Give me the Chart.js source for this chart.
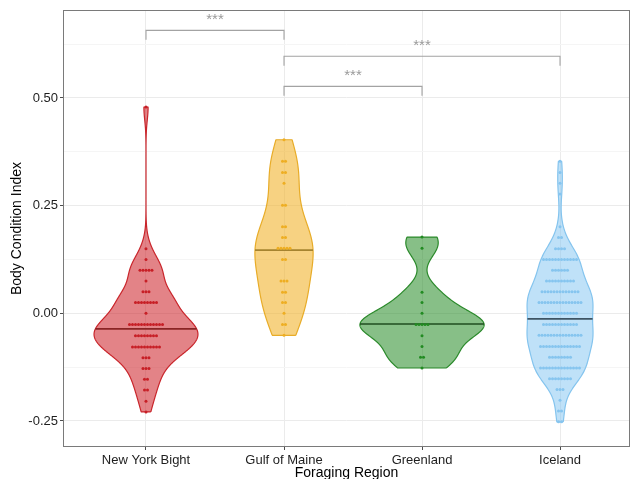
<!DOCTYPE html>
<html>
<head>
<meta charset="utf-8">
<script src="https://cdn.jsdelivr.net/npm/chart.js@4.4.1/dist/chart.umd.min.js"></script>
<style>
  html, body { margin: 0; padding: 0; background: #fff; overflow: hidden; }
  #wrap { width: 632px; height: 479px; overflow: hidden; }
  canvas { display: block; }
</style>
</head>
<body>
<div id="wrap"><canvas id="c" width="632" height="490" style="width:632px;height:490px"></canvas></div>
<script>
// Foraging regions (x categories)
const regions = ['New York Bight', 'Gulf of Maine', 'Greenland', 'Iceland'];

// Body condition index, one value per animal (binned as in the dot plot)
const newYorkBight = [
  0.479, 0.150, 0.125,
  0.100, 0.100, 0.100, 0.100, 0.100,
  0.075,
  0.050, 0.050, 0.050,
  0.025, 0.025, 0.025, 0.025, 0.025, 0.025, 0.025, 0.025,
  0.000,
  -0.026, -0.026, -0.026, -0.026, -0.026, -0.026, -0.026, -0.026, -0.026, -0.026, -0.026, -0.026,
  -0.052, -0.052, -0.052, -0.052, -0.052, -0.052, -0.052, -0.052,
  -0.078, -0.078, -0.078, -0.078, -0.078, -0.078, -0.078, -0.078, -0.078, -0.078,
  -0.103, -0.103, -0.103,
  -0.128, -0.128, -0.128,
  -0.153, -0.153,
  -0.178, -0.178,
  -0.204, -0.229
];
const gulfOfMaine = [
  0.403,
  0.353, 0.353,
  0.327, 0.327,
  0.302,
  0.251, 0.251,
  0.201, 0.201,
  0.176, 0.176,
  0.151, 0.151, 0.151, 0.151, 0.151,
  0.125, 0.125,
  0.075, 0.075, 0.075,
  0.049, 0.049,
  0.025, 0.025,
  0.000,
  -0.026, -0.026,
  -0.051
];
const greenland = [
  0.177, 0.151, 0.049, 0.025, 0.000,
  -0.026, -0.026, -0.026, -0.026, -0.026,
  -0.052, -0.077, -0.102, -0.102, -0.127
];
const iceland = [
  0.353, 0.327, 0.302, 0.277, 0.201,
  0.176, 0.176,
  0.150, 0.150, 0.150, 0.150,
  0.125, 0.125, 0.125, 0.125, 0.125, 0.125, 0.125, 0.125, 0.125, 0.125, 0.125, 0.125,
  0.100, 0.100, 0.100, 0.100, 0.100, 0.100,
  0.075, 0.075, 0.075, 0.075, 0.075, 0.075, 0.075, 0.075, 0.075, 0.075,
  0.050, 0.050, 0.050, 0.050, 0.050, 0.050, 0.050, 0.050, 0.050, 0.050, 0.050, 0.050, 0.050,
  0.025, 0.025, 0.025, 0.025, 0.025, 0.025, 0.025, 0.025, 0.025, 0.025, 0.025, 0.025, 0.025, 0.025, 0.025,
  0.000, 0.000, 0.000, 0.000, 0.000, 0.000, 0.000, 0.000, 0.000, 0.000, 0.000, 0.000,
  -0.026, -0.026, -0.026, -0.026, -0.026, -0.026, -0.026, -0.026, -0.026, -0.026, -0.026, -0.026,
  -0.051, -0.051, -0.051, -0.051, -0.051, -0.051, -0.051, -0.051, -0.051, -0.051, -0.051, -0.051, -0.051, -0.051, -0.051,
  -0.077, -0.077, -0.077, -0.077, -0.077, -0.077, -0.077, -0.077, -0.077, -0.077, -0.077, -0.077, -0.077, -0.077,
  -0.102, -0.102, -0.102, -0.102, -0.102, -0.102, -0.102, -0.102,
  -0.127, -0.127, -0.127, -0.127, -0.127, -0.127, -0.127, -0.127, -0.127, -0.127, -0.127, -0.127, -0.127, -0.127,
  -0.152, -0.152, -0.152, -0.152, -0.152, -0.152, -0.152, -0.152,
  -0.177, -0.177, -0.177,
  -0.202,
  -0.227, -0.227,
  -0.252, -0.252
];
const regionValues = [newYorkBight, gulfOfMaine, greenland, iceland];

// Y axis ticks (majors labelled, minors between them)
const yMajorTicks = [-0.25, 0.00, 0.25, 0.50];
const yMinorTicks = [-0.125, 0.125, 0.375, 0.625];

// Pairwise comparisons drawn as significance brackets
const comparisons = [
  ['New York Bight', 'Gulf of Maine'],
  ['Gulf of Maine', 'Iceland'],
  ['Gulf of Maine', 'Greenland']
];
const bracketLevels = [0.657, 0.597, 0.527];
const significance = ['***', '***', '***'];

// Styling
const fillColors   = ['rgba(204,30,36,0.55)', 'rgba(242,178,40,0.58)', 'rgba(36,138,36,0.55)', 'rgba(132,198,242,0.52)'];
const lineColors   = ['#c9252b', '#e8ac28', '#2b8a2b', '#84c4ee'];
const dotColors    = ['#c71f26', '#eeae22', '#228b22', '#86c5ef'];
const medianColors = ['#8a2424', '#a5832f', '#1f4d1f', '#3e5464'];
const FONT = '"Liberation Sans", Arial, Helvetica, sans-serif';

// ---- kernel density (gaussian, nrd0 bandwidth, trimmed to data range) ----
function quantile7(sorted, p) {
  const h = (sorted.length - 1) * p;
  const lo = Math.floor(h);
  const hi = Math.min(lo + 1, sorted.length - 1);
  return sorted[lo] + (h - lo) * (sorted[hi] - sorted[lo]);
}
function bwNrd0(values) {
  const n = values.length;
  const mean = values.reduce((a, b) => a + b, 0) / n;
  const sd = Math.sqrt(values.reduce((a, b) => a + (b - mean) * (b - mean), 0) / (n - 1));
  const s = [...values].sort((a, b) => a - b);
  const iqr = quantile7(s, 0.75) - quantile7(s, 0.25);
  let lo = Math.min(sd, iqr / 1.34);
  if (!lo) lo = sd || Math.abs(s[0]) || 1;
  return 0.9 * lo * Math.pow(n, -0.2);
}
function density(values, gridN) {
  const bw = bwNrd0(values);
  const lo = Math.min(...values), hi = Math.max(...values);
  const ys = [], ds = [];
  const norm = 1 / (values.length * bw * Math.sqrt(2 * Math.PI));
  for (let i = 0; i < gridN; i++) {
    const y = lo + (hi - lo) * i / (gridN - 1);
    let s = 0;
    for (const v of values) { const z = (y - v) / bw; s += Math.exp(-0.5 * z * z); }
    ys.push(y); ds.push(s * norm);
  }
  return { ys, ds };
}

const GRID_N = 512;
const dens = regionValues.map(v => density(v, GRID_N));
const maxDensity = Math.max(...dens.map(d => Math.max(...d.ds)));
const VIOLIN_WIDTH = 0.9;           // category units, scaled by equal area
const DOT_STEP = 3 / 138;           // horizontal dot spacing in category units
const X_MIN = 0.3986, X_MAX = 4.507;
const Y_MIN = -0.3104, Y_MAX = 0.7043;

const datasets = [];
regionValues.forEach((values, k) => {
  const pos = k + 1;
  const { ys, ds } = dens[k];
  const half = ds.map(d => d / maxDensity * VIOLIN_WIDTH / 2);

  // violin outline
  const poly = [];
  for (let i = 0; i < ys.length; i++) poly.push({ x: pos + half[i], y: ys[i] });
  for (let i = ys.length - 1; i >= 0; i--) poly.push({ x: pos - half[i], y: ys[i] });
  poly.push(poly[0]);
  datasets.push({
    type: 'line', data: poly, order: 3,
    borderColor: lineColors[k], borderWidth: 1.2, backgroundColor: fillColors[k],
    fill: 'shape', pointRadius: 0, tension: 0.01
  });

  // median from the density's cumulative distribution
  const total = ds.reduce((a, b) => a + b, 0);
  let cum = 0, med = ys[0], medHalf = half[0];
  for (let i = 0; i < ds.length; i++) {
    const prev = cum;
    cum += ds[i] / total;
    if (cum >= 0.5) {
      if (i === 0) { med = ys[0]; medHalf = half[0]; }
      else {
        const f = (0.5 - prev) / (cum - prev);
        med = ys[i - 1] + f * (ys[i] - ys[i - 1]);
        medHalf = half[i - 1] + f * (half[i] - half[i - 1]);
      }
      break;
    }
  }
  datasets.push({
    type: 'line', order: 2,
    data: [{ x: pos - medHalf, y: med }, { x: pos + medHalf, y: med }],
    borderColor: medianColors[k], borderWidth: 1.6, pointRadius: 0, fill: false
  });

  // centred dot stacks, one stack per distinct value
  const counts = new Map();
  values.forEach(v => counts.set(v, (counts.get(v) || 0) + 1));
  const dots = [];
  counts.forEach((n, v) => {
    for (let j = 0; j < n; j++) dots.push({ x: pos + (j - (n - 1) / 2) * DOT_STEP, y: v });
  });
  datasets.push({
    type: 'scatter', data: dots, order: 1,
    backgroundColor: dotColors[k], borderWidth: 0, pointRadius: 1.5, pointHoverRadius: 1.5
  });
});

// significance brackets
const TIP = 0.022;
comparisons.forEach((pair, i) => {
  const a = regions.indexOf(pair[0]) + 1, b = regions.indexOf(pair[1]) + 1;
  const yl = bracketLevels[i];
  datasets.push({
    type: 'line', order: 0,
    data: [{ x: a, y: yl - TIP }, { x: a, y: yl }, { x: b, y: yl }, { x: b, y: yl - TIP }],
    borderColor: '#a3a3a3', borderWidth: 1.1, pointRadius: 0, fill: false, tension: 0
  });
});

const isMajor = v => yMajorTicks.some(t => Math.abs(t - v) < 1e-9);

const panelBorder = {
  id: 'panelBorder',
  afterDatasetsDraw(chart) {
    const { ctx, chartArea: a, scales: { x, y } } = chart;
    ctx.save();
    // significance labels
    ctx.font = '15px ' + FONT;
    ctx.fillStyle = '#9a9a9a';
    ctx.textAlign = 'center';
    ctx.textBaseline = 'alphabetic';
    comparisons.forEach((pair, i) => {
      const x1 = x.getPixelForValue(regions.indexOf(pair[0]) + 1);
      const x2 = x.getPixelForValue(regions.indexOf(pair[1]) + 1);
      ctx.fillText(significance[i], (x1 + x2) / 2, y.getPixelForValue(bracketLevels[i]) - 6);
    });
    // panel frame
    ctx.strokeStyle = '#7a7a7a';
    ctx.lineWidth = 1;
    ctx.strokeRect(a.left + 0.5, a.top + 0.5, a.right - a.left - 1, a.bottom - a.top - 1);
    ctx.restore();
  }
};

Chart.defaults.font.family = FONT;

new Chart(document.getElementById('c'), {
  type: 'scatter',
  data: { datasets },
  plugins: [panelBorder],
  options: {
    responsive: false,
    animation: false,
    devicePixelRatio: 1,
    layout: { padding: { top: 10, right: 2, left: 0, bottom: 0 } },
    plugins: { legend: { display: false }, tooltip: { enabled: false } },
    scales: {
      x: {
        type: 'linear', min: X_MIN, max: X_MAX,
        afterFit: s => { s.height = 43; },
        afterBuildTicks: s => { s.ticks = regions.map((r, i) => ({ value: i + 1 })); },
        ticks: {
          autoSkip: false, maxRotation: 0, padding: 3,
          color: '#1e1e1e', font: { size: 13 },
          callback: v => regions[Math.round(v) - 1]
        },
        grid: { color: '#ebebeb', lineWidth: 1, tickLength: 3, tickColor: '#4d4d4d' },
        border: { display: false },
        title: {
          display: true, text: 'Foraging Region', color: '#000',
          font: { size: 14 }, padding: { top: 0, bottom: 8.6 }
        }
      },
      y: {
        type: 'linear', min: Y_MIN, max: Y_MAX,
        afterFit: s => { s.width = 63; },
        afterBuildTicks: s => {
          s.ticks = [...yMajorTicks, ...yMinorTicks].sort((a, b) => a - b).map(v => ({ value: v }));
        },
        ticks: {
          padding: 2, color: '#1e1e1e', font: { size: 13 },
          callback: v => isMajor(v) ? v.toFixed(2) : ''
        },
        grid: {
          lineWidth: 1, tickLength: 3,
          color: c => isMajor(c.tick.value) ? '#ebebeb' : '#f5f5f5',
          tickColor: c => isMajor(c.tick.value) ? '#4d4d4d' : 'rgba(0,0,0,0)'
        },
        border: { display: false },
        title: {
          display: true, text: 'Body Condition Index', color: '#000',
          font: { size: 14 }, padding: { top: 8.6, bottom: 0 }
        }
      }
    }
  }
});
</script>
</body>
</html>
